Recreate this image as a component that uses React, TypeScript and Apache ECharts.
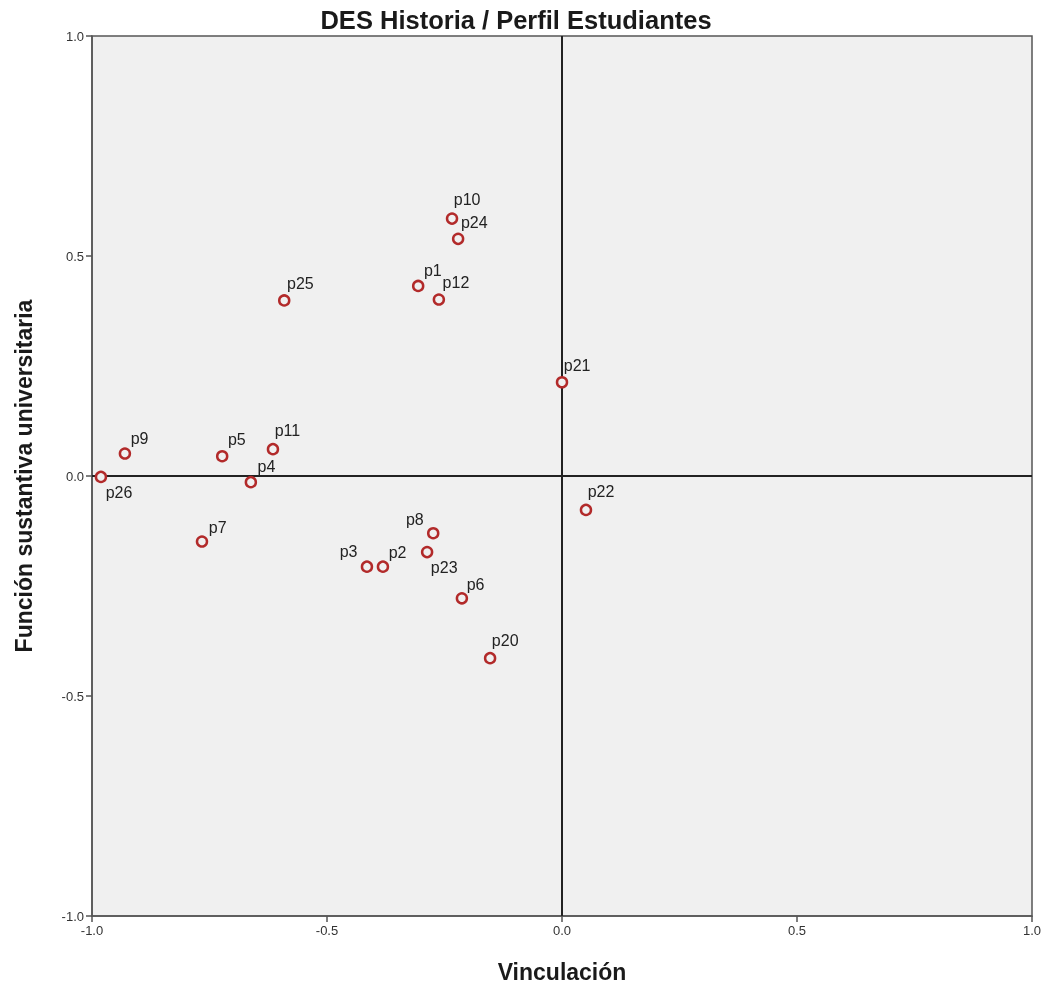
import React, { useEffect, useRef } from "react";
import * as echarts from "echarts";

const names = ["p10", "p24", "p1", "p12", "p25", "p21", "p9", "p5", "p11", "p4", "p26", "p22", "p7", "p8", "p23", "p3", "p2", "p6", "p20"];
const xVals = [-0.234, -0.221, -0.306, -0.262, -0.591, 0.0, -0.930, -0.723, -0.615, -0.662, -0.981, 0.051, -0.766, -0.274, -0.287, -0.415, -0.381, -0.213, -0.153];
const yVals = [0.585, 0.539, 0.432, 0.401, 0.399, 0.213, 0.051, 0.045, 0.061, -0.014, -0.002, -0.077, -0.149, -0.130, -0.173, -0.206, -0.206, -0.278, -0.414];
// label offsets (dx, dy) of the label's left/middle relative to marker centre
const labelDx: Record<string, number> = { p10: 3, p24: 4, p9: 7, p5: 7, p11: 3, p4: 8, p26: 6, p7: 8, p8: -26, p3: -26, p2: 7, p23: 5, p6: 6, p20: 3, p1: 7, p12: 5, p21: 3, p22: 3, p25: 4 };
const labelDy: Record<string, number> = { p10: -18, p24: -15, p9: -14, p5: -15, p11: -17, p4: -14, p26: 17, p7: -13, p8: -12, p3: -14, p2: -13, p23: 17, p6: -13, p20: -16, p1: -14, p12: -16, p21: -16, p22: -17, p25: -16 };

const title = "DES Historia / Perfil Estudiantes";
const xName = "Vinculación";
const yName = "Función sustantiva universitaria";

export default function App() {
  const ref = useRef<HTMLDivElement>(null);
  useEffect(() => {
    if (!ref.current) return;
    const chart = echarts.init(ref.current, undefined, { renderer: "svg" });
    const symbolSize = 10;
    const data = names.map((n, i) => {
      const dx = labelDx[n] ?? 5;
      const dy = labelDy[n] ?? -15;
      return {
        name: n,
        value: [xVals[i], yVals[i]],
        label: {
          show: true,
          formatter: n,
          position: [symbolSize / 2 + dx, symbolSize / 2 + dy],
          align: "left",
          verticalAlign: "middle",
        },
      };
    });
    const font = "Arial, 'Liberation Sans', sans-serif";
    chart.setOption({
      animation: false,
      textStyle: { fontFamily: font },
      title: {
        text: title,
        left: 511,
        top: 2,
        textAlign: "center",
        textStyle: { fontSize: 25.5, fontWeight: "bold", color: "#1a1a1a", fontFamily: font },
      },
      grid: {
        left: 92,
        right: 15,
        top: 36,
        bottom: 70,
        show: true,
        backgroundColor: "#f0f0f0",
        borderColor: "#555",
        borderWidth: 1.5,
      },
      xAxis: {
        type: "value",
        min: -1,
        max: 1,
        interval: 0.5,
        name: xName,
        nameLocation: "middle",
        nameGap: 44,
        nameTextStyle: { fontSize: 23, fontWeight: "bold", color: "#1a1a1a", fontFamily: font },
        axisLine: { show: true, onZero: false, lineStyle: { color: "#555", width: 1.5 } },
        axisTick: { show: true, inside: false, length: 6, lineStyle: { color: "#555", width: 1.5 } },
        axisLabel: { color: "#333", fontSize: 13, margin: 8, formatter: (v: number) => v.toFixed(1), fontFamily: font },
        splitLine: { show: false },
      },
      yAxis: {
        type: "value",
        min: -1,
        max: 1,
        interval: 0.5,
        name: yName,
        nameLocation: "middle",
        nameGap: 57,
        nameRotate: 90,
        nameTextStyle: { fontSize: 23, fontWeight: "bold", color: "#1a1a1a", fontFamily: font },
        axisLine: { show: true, onZero: false, lineStyle: { color: "#555", width: 1.5 } },
        axisTick: { show: true, inside: false, length: 6, lineStyle: { color: "#555", width: 1.5 } },
        axisLabel: { color: "#333", fontSize: 13, margin: 8, formatter: (v: number) => v.toFixed(1), fontFamily: font },
        splitLine: { show: false },
      },
      series: [
        {
          type: "scatter",
          symbol: "circle",
          symbolSize,
          data,
          itemStyle: { color: "#f0f0f0", borderColor: "#b22a2a", borderWidth: 2.5, opacity: 1 },
          label: { color: "#222", fontSize: 16, fontFamily: font },
          markLine: {
            silent: true,
            symbol: ["none", "none"],
            label: { show: false },
            lineStyle: { color: "#222", width: 2, type: "solid" },
            data: [{ xAxis: 0 }, { yAxis: 0 }],
            z: 1,
          },
          z: 3,
        },
      ],
    });
    return () => chart.dispose();
  }, []);
  return <div ref={ref} style={{ position: "fixed", left: 0, top: 0, width: 1047, height: 988 }} />;
}
